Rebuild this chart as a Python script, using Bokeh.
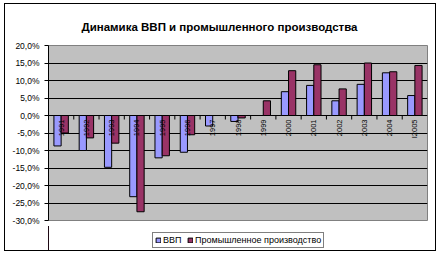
import numpy as np
from math import pi
from bokeh.plotting import figure
from bokeh.layouts import column
from bokeh.models import FixedTicker, Legend, LegendItem, Range1d
from bokeh.core.properties import value
from bokeh.embed import file_html
from bokeh.resources import INLINE

# ---- data ----
categories = ["1991", "1992", "1993", "1994", "1995", "1996", "1997", "1998",
              "1999", "2000", "2001", "2002", "2003", "2004", "I2005"]
vvp = [-8.7, -10.0, -14.8, -23.2, -12.1, -10.5, -3.0, -1.7,
       0.0, 6.8, 8.6, 4.2, 8.9, 12.2, 5.7]
prom = [-5.0, -6.4, -7.9, -27.5, -11.5, -5.5, 0.0, -0.7,
        4.2, 12.8, 14.5, 7.6, 15.0, 12.5, 14.3]
series_names = ["ВВП", "Промышленное производство"]
y_ticks = [-30, -25, -20, -15, -10, -5, 0, 5, 10, 15, 20]
y_tick_labels = ["-30,0%", "-25,0%", "-20,0%", "-15,0%", "-10,0%", "-5,0%",
                 "0,0%", "5,0%", "10,0%", "15,0%", "20,0%"]
title_text = "Динамика ВВП и промышленного производства"

FONT = "Liberation Sans"
C_VVP = "#9999FF"
C_PROM = "#993366"

W = 430                 # inner width of the chart box
H1, H2 = 222, 24        # chart part / legend strip
BL, BR, BT, BB = 43, 8, 41, 6

n = len(categories)
centers = np.arange(n) + 0.5
bounds = np.arange(1, n).astype(float)
bar_w = 1.0 / 3.5
x_vvp = centers - bar_w / 2
x_prom = centers + bar_w / 2

ymin, ymax = y_ticks[0], y_ticks[-1]
px_per_unit = (H1 - BT - BB) / (ymax - ymin)
tick_len = 4 / px_per_unit

p = figure(width=W, height=H1,
           x_range=Range1d(0, n), y_range=Range1d(ymin, ymax),
           output_backend="svg", toolbar_location=None,
           min_border_left=BL, min_border_right=BR,
           min_border_top=BT, min_border_bottom=BB)

p.background_fill_color = "#C0C0C0"
p.border_fill_color = "white"
p.outline_line_color = "#808080"

p.title.text = title_text
p.title.align = "left"
p.title.offset = 33
p.title.standoff = 26
p.title.text_font = FONT
p.title.text_font_size = "11.5px"
p.title.text_font_style = "bold"
p.title.text_color = "black"

p.xgrid.visible = False
p.ygrid.ticker = FixedTicker(ticks=y_ticks)
p.ygrid.grid_line_color = "black"
p.ygrid.grid_line_alpha = 1.0

ya = p.yaxis[0]
ya.ticker = FixedTicker(ticks=y_ticks)
ya.major_label_overrides = {t: s for t, s in zip(y_ticks, y_tick_labels)}
ya.major_label_text_font = FONT
ya.major_label_text_font_size = "8.5px"
ya.major_label_text_color = "black"
ya.major_tick_in = 0
ya.major_tick_out = 4
ya.major_tick_line_color = "black"
ya.minor_tick_line_color = None
ya.axis_line_color = "black"
ya.major_label_standoff = 5

p.xaxis.visible = False

r1 = p.vbar(x=x_vvp, top=vvp, bottom=0, width=bar_w,
            fill_color=C_VVP, line_color="black", line_width=1)
r2 = p.vbar(x=x_prom, top=prom, bottom=0, width=bar_w,
            fill_color=C_PROM, line_color="black", line_width=1)

# category axis drawn at zero: tick marks between categories and rotated labels
p.segment(x0=bounds, y0=np.zeros(len(bounds)), x1=bounds,
          y1=np.zeros(len(bounds)) - tick_len, line_color="black", line_width=1)
p.text(x=centers, y=np.zeros(n), text=categories, angle=pi / 2,
       text_align="right", text_baseline="middle", y_offset=4,
       text_font=value(FONT), text_font_size="7.5px", text_color="black")

# ---- legend strip below the chart ----
p2 = figure(width=W, height=H2, x_range=Range1d(n + 1, n + 2), y_range=Range1d(0, 1),
            output_backend="svg", toolbar_location=None,
            min_border_left=0, min_border_right=0,
            min_border_top=0, min_border_bottom=0)
p2.axis.visible = False
p2.grid.visible = False
p2.outline_line_color = None
p2.background_fill_color = "white"
p2.border_fill_color = "white"
# legend keys share the series data (outside this strip's visible range)
k1 = p2.vbar(x=x_vvp, top=vvp, width=bar_w, fill_color=C_VVP, line_color="black")
k2 = p2.vbar(x=x_prom, top=prom, width=bar_w, fill_color=C_PROM, line_color="black")

legend = Legend(items=[LegendItem(label=series_names[0], renderers=[k1]),
                       LegendItem(label=series_names[1], renderers=[k2])],
                orientation="horizontal", location=(104, 2))
legend.border_line_color = "black"
legend.background_fill_color = "white"
legend.label_text_font = FONT
legend.label_text_font_size = "9px"
legend.label_text_color = "black"
legend.glyph_width = 6
legend.glyph_height = 6
legend.label_standoff = 2
legend.spacing = 4
legend.padding = 2
legend.margin = 0
legend.label_height = 8
p2.add_layout(legend)

layout = column(p, p2, spacing=0,
                styles={"border": "1px solid black", "margin-left": "4px",
                        "margin-top": "3px"})

open("out.html", "w").write(file_html(layout, INLINE))
